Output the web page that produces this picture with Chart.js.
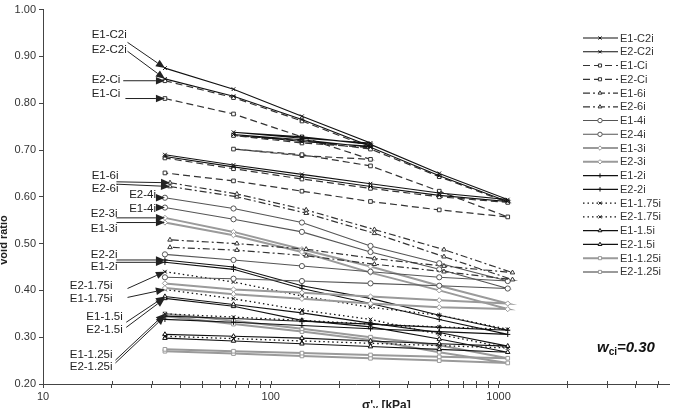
<!DOCTYPE html>
<html>
<head>
<meta charset="utf-8">
<script src="https://cdn.jsdelivr.net/npm/chart.js"></script>
<style>
  html, body { margin: 0; padding: 0; background: #fff; overflow: hidden; }
  #wrap { width: 674px; height: 408px; }
</style>
</head>
<body>
<div id="wrap"><canvas id="myChart" width="674" height="408"></canvas></div>
<script>
// vertical stress steps (kPa): load / unload-reload loop at 274 kPa / load / unload
var pLoop = [34.3, 68.6, 137, 274, 137, 68.6, 137, 274, 549, 1097, 549, 274, 137, 68.6, 34.3];
var pStd = [34.3, 68.6, 137, 274, 549, 1097, 549, 274, 137, 68.6, 34.3];
var pAlt = [36.1, 71, 143, 285, 576, 1151, 576, 285, 143, 71, 36.1];

// void ratios
var E1_C2i = [0.875, 0.830, 0.772, 0.715, 0.725, 0.738, 0.728, 0.712, 0.650, 0.594, 0.608, 0.628, 0.648, 0.668, 0.690];
var E2_C2i = [0.852, 0.815, 0.765, 0.708, 0.718, 0.733, 0.722, 0.706, 0.645, 0.590, 0.603, 0.622, 0.643, 0.664, 0.686];
var E1_Ci = [0.810, 0.777, 0.728, 0.680, 0.688, 0.702, 0.690, 0.666, 0.612, 0.557, 0.572, 0.590, 0.612, 0.634, 0.651];
var E2_Ci = [0.848, 0.812, 0.762, 0.705, 0.715, 0.731, 0.720, 0.702, 0.643, 0.588, 0.600, 0.618, 0.638, 0.660, 0.683];
var E1_6i = [0.630, 0.606, 0.572, 0.530, 0.487, 0.438, 0.452, 0.468, 0.488, 0.500, 0.508];
var E2_6i = [0.622, 0.600, 0.565, 0.522, 0.472, 0.423, 0.440, 0.456, 0.474, 0.486, 0.492];
var E1_4i = [0.577, 0.552, 0.525, 0.482, 0.445, 0.404, 0.410, 0.415, 0.420, 0.425, 0.428];
var E2_4i = [0.598, 0.575, 0.545, 0.495, 0.458, 0.420, 0.428, 0.440, 0.452, 0.465, 0.477];
var E1_3i = [0.545, 0.518, 0.482, 0.438, 0.400, 0.360, 0.364, 0.372, 0.382, 0.392, 0.405];
var E2_3i = [0.555, 0.525, 0.488, 0.451, 0.410, 0.372, 0.379, 0.387, 0.395, 0.402, 0.415];
var E1_2i = [0.460, 0.445, 0.404, 0.372, 0.338, 0.306, 0.312, 0.318, 0.325, 0.332, 0.338];
var E2_2i = [0.465, 0.450, 0.410, 0.383, 0.347, 0.315, 0.321, 0.328, 0.334, 0.340, 0.345];
var E1_175i = [0.402, 0.382, 0.358, 0.338, 0.306, 0.277, 0.282, 0.287, 0.292, 0.297, 0.302];
var E2_175i = [0.440, 0.418, 0.388, 0.364, 0.347, 0.317, 0.322, 0.328, 0.336, 0.343, 0.350];
var E1_15i = [0.387, 0.370, 0.352, 0.330, 0.310, 0.281, 0.286, 0.292, 0.298, 0.302, 0.306];
var E2_15i = [0.383, 0.366, 0.336, 0.322, 0.296, 0.268, 0.274, 0.280, 0.286, 0.292, 0.298];
var E1_125i = [0.350, 0.335, 0.318, 0.300, 0.283, 0.255, 0.258, 0.262, 0.266, 0.270, 0.274];
var E2_125i = [0.345, 0.328, 0.312, 0.294, 0.268, 0.245, 0.250, 0.255, 0.260, 0.265, 0.270];

var yTicks = [0.2, 0.3, 0.4, 0.5, 0.6, 0.7, 0.8, 0.9, 1.0];
var xLabels = [10, 100, 1000];

// name, stresses, void ratios, line style key, marker
var series = [
    ['E1-C2i', pLoop, E1_C2i, 'black', 'crossRot'],
    ['E2-C2i', pLoop, E2_C2i, 'black', 'crossRot'],
    ['E1-Ci', pLoop, E1_Ci, 'dash', 'rect'],
    ['E2-Ci', pLoop, E2_Ci, 'dash', 'rect'],
    ['E1-6i', pAlt, E1_6i, 'dashdot', 'triangle'],
    ['E2-6i', pAlt, E2_6i, 'dashdot', 'triangle'],
    ['E1-4i', pStd, E1_4i, 'dark', 'circle'],
    ['E2-4i', pStd, E2_4i, 'dark', 'circle'],
    ['E1-3i', pStd, E1_3i, 'light', 'rectRot'],
    ['E2-3i', pStd, E2_3i, 'light', 'rectRot'],
    ['E1-2i', pStd, E1_2i, 'black', 'cross'],
    ['E2-2i', pStd, E2_2i, 'black', 'cross'],
    ['E1-1.75i', pStd, E1_175i, 'dot', 'crossRot'],
    ['E2-1.75i', pStd, E2_175i, 'dot', 'crossRot'],
    ['E1-1.5i', pStd, E1_15i, 'black', 'triangle'],
    ['E2-1.5i', pStd, E2_15i, 'black', 'triangle'],
    ['E1-1.25i', pStd, E1_125i, 'light', 'rect'],
    ['E2-1.25i', pStd, E2_125i, 'light', 'rect']
];

var lineStyles = {
    black: { color: '#111', width: 1.1, dash: [] },
    dash: { color: '#333', width: 1.2, dash: [7, 4] },
    dashdot: { color: '#333', width: 1.2, dash: [7, 3, 2, 3] },
    dark: { color: '#555', width: 1.1, dash: [] },
    light: { color: '#9a9a9a', width: 2, dash: [] },
    dot: { color: '#111', width: 1.3, dash: [1.5, 3] }
};

// callout labels on the left: text position and arrow start (kPa, e)
var callouts = [
    { name: 'E1-C2i', tx: 16.35, ty: 0.947, sx: 23.5, sy: 0.930 },
    { name: 'E2-C2i', tx: 16.35, ty: 0.915, sx: 23.5, sy: 0.911 },
    { name: 'E2-Ci', tx: 16.35, ty: 0.851, sx: 22.5, sy: 0.848 },
    { name: 'E1-Ci', tx: 16.35, ty: 0.821, sx: 23.0, sy: 0.810 },
    { name: 'E1-6i', tx: 16.35, ty: 0.645, sx: 21.0, sy: 0.632 },
    { name: 'E2-6i', tx: 16.35, ty: 0.617, sx: 21.0, sy: 0.627 },
    { name: 'E2-4i', tx: 23.9, ty: 0.604, sx: 31.4, sy: 0.598 },
    { name: 'E1-4i', tx: 23.9, ty: 0.574, sx: 31.4, sy: 0.577 },
    { name: 'E2-3i', tx: 16.2, ty: 0.564, sx: 21.0, sy: 0.555 },
    { name: 'E1-3i', tx: 16.2, ty: 0.532, sx: 21.0, sy: 0.545 },
    { name: 'E2-2i', tx: 16.2, ty: 0.477, sx: 21.0, sy: 0.465 },
    { name: 'E1-2i', tx: 16.2, ty: 0.451, sx: 21.0, sy: 0.460 },
    { name: 'E2-1.75i', tx: 13.1, ty: 0.409, sx: 23.5, sy: 0.404 },
    { name: 'E1-1.75i', tx: 13.1, ty: 0.383, sx: 23.5, sy: 0.385 },
    { name: 'E1-1.5i', tx: 15.5, ty: 0.343, sx: 23.2, sy: 0.332 },
    { name: 'E2-1.5i', tx: 15.5, ty: 0.315, sx: 23.2, sy: 0.321 },
    { name: 'E1-1.25i', tx: 13.1, ty: 0.262, sx: 20.8, sy: 0.251 },
    { name: 'E2-1.25i', tx: 13.1, ty: 0.236, sx: 20.8, sy: 0.245 }
];

var FONT = 'Arial, "Liberation Sans", sans-serif';

var datasets = series.map(function(s) {
    var st = lineStyles[s[3]];
    return {
        label: s[0],
        data: s[1].map(function(p, i) { return { x: p, y: s[2][i] }; }),
        showLine: true,
        borderColor: st.color,
        borderWidth: st.width,
        borderDash: st.dash,
        backgroundColor: '#fff',
        pointStyle: s[4],
        pointRadius: 2.6,
        pointBorderWidth: 1,
        pointBorderColor: st.color,
        pointBackgroundColor: '#fff',
        tension: 0
    };
});

function drawArrow(c, x0, y0, x1, y1) {
    var a = Math.atan2(y1 - y0, x1 - x0);
    var len = 9, half = 3.8;
    c.beginPath();
    c.moveTo(x0, y0);
    c.lineTo(x1 - Math.cos(a) * len, y1 - Math.sin(a) * len);
    c.stroke();
    c.beginPath();
    c.moveTo(x1, y1);
    c.lineTo(x1 - Math.cos(a) * len - Math.sin(a) * half, y1 - Math.sin(a) * len + Math.cos(a) * half);
    c.lineTo(x1 - Math.cos(a) * len + Math.sin(a) * half, y1 - Math.sin(a) * len - Math.cos(a) * half);
    c.closePath();
    c.fill();
}

var overlay = {
    id: 'overlay',
    afterDatasetsDraw: function(chart) {
        var c = chart.ctx;
        var xs = chart.scales.x, ys = chart.scales.y;
        c.save();

        // x ticks cross the axis line
        c.strokeStyle = '#444';
        c.lineWidth = 1;
        xs.ticks.forEach(function(t) {
            var px = Math.round(xs.getPixelForValue(t.value)) + 0.5;
            c.beginPath();
            c.moveTo(px, xs.top - 3);
            c.lineTo(px, xs.top);
            c.stroke();
        });

        // callouts with arrows
        c.font = '11.5px ' + FONT;
        c.textBaseline = 'middle';
        c.fillStyle = '#222';
        c.strokeStyle = '#222';
        c.lineWidth = 1;
        callouts.forEach(function(cl) {
            var idx = series.findIndex(function(s) { return s[0] === cl.name; });
            var pt = chart.getDatasetMeta(idx).data[0];
            c.fillText(cl.name, xs.getPixelForValue(cl.tx), ys.getPixelForValue(cl.ty));
            drawArrow(c, xs.getPixelForValue(cl.sx), ys.getPixelForValue(cl.sy), pt.x, pt.y);
        });

        // legend
        var lx = 583, ly = 38, step = 13.76;
        c.font = '11px ' + FONT;
        c.textAlign = 'left';
        chart.data.datasets.forEach(function(ds, i) {
            var y = ly + i * step;
            c.fillStyle = '#fff';
            c.fillRect(lx - 2, y - 7, 92, 14);
            c.strokeStyle = ds.borderColor;
            c.lineWidth = ds.borderWidth;
            c.setLineDash(ds.borderDash);
            c.beginPath();
            c.moveTo(lx, y);
            c.lineTo(lx + 35, y);
            c.stroke();
            c.setLineDash([]);
            c.lineWidth = 1;
            c.fillStyle = '#fff';
            Chart.helpers.drawPoint(c, { pointStyle: ds.pointStyle, radius: 2.2, borderWidth: 1, rotation: 0 }, lx + 17, y);
            c.fillStyle = '#333';
            c.fillText(ds.label, lx + 37, y + 0.5);
        });

        // w_ci = 0.30
        c.fillStyle = '#111';
        c.textBaseline = 'alphabetic';
        c.font = 'italic bold 15px ' + FONT;
        c.fillText('w', 597, 352);
        var wW = c.measureText('w').width;
        c.font = 'bold 10px ' + FONT;
        c.fillText('ci', 597 + wW, 355);
        var cW = c.measureText('ci').width;
        c.font = 'italic bold 15px ' + FONT;
        c.fillText('=0.30', 597 + wW + cW, 352);

        // axis titles
        c.fillStyle = '#222';
        c.font = 'bold 12px ' + FONT;
        c.textBaseline = 'top';
        var tx = 362;
        c.fillText("\u03c3'", tx, 400);
        tx += c.measureText("\u03c3'").width;
        c.font = 'bold 9px ' + FONT;
        c.fillText('v', tx, 404);
        tx += c.measureText('v').width;
        c.font = 'bold 12px ' + FONT;
        c.fillText(' [kPa]', tx, 400);

        c.translate(4, 240);
        c.rotate(-Math.PI / 2);
        c.textAlign = 'center';
        c.textBaseline = 'middle';
        c.font = 'bold 11px ' + FONT;
        c.fillText('void ratio', 0, 0);
        c.restore();
    }
};

document.addEventListener("DOMContentLoaded", function() {
    var ctx = document.getElementById('myChart').getContext('2d');
    var xTicks = [];
    [10, 100, 1000].forEach(function(d) {
        for (var m = 1; m <= 9; m++) {
            if (d * m <= 5600) xTicks.push(d * m);
        }
    });

    new Chart(ctx, {
        type: 'scatter',
        data: { datasets: datasets },
        options: {
            responsive: false,
            animation: false,
            devicePixelRatio: 1,
            layout: { padding: { top: 8, right: 0, left: 0, bottom: 0 } },
            plugins: {
                legend: { display: false },
                tooltip: { enabled: false }
            },
            scales: {
                x: {
                    type: 'logarithmic',
                    min: 10,
                    max: 5600,
                    afterFit: function(s) { s.height = 24; },
                    afterBuildTicks: function(s) {
                        s.ticks = xTicks.map(function(v) { return { value: v }; });
                    },
                    ticks: {
                        autoSkip: false,
                        maxRotation: 0,
                        padding: 2,
                        color: '#333',
                        font: { size: 11, family: FONT },
                        callback: function(v) { return xLabels.indexOf(v) >= 0 ? String(v) : ''; }
                    },
                    grid: { drawOnChartArea: false, tickLength: 4, color: '#444' },
                    border: { color: '#444', width: 1 }
                },
                y: {
                    min: 0.2,
                    max: 1.0,
                    afterFit: function(s) { s.width = 43; },
                    afterBuildTicks: function(s) {
                        s.ticks = yTicks.map(function(v) { return { value: v }; });
                    },
                    ticks: {
                        padding: 3,
                        color: '#333',
                        font: { size: 11, family: FONT },
                        callback: function(v) { return v.toFixed(2); }
                    },
                    grid: { drawOnChartArea: false, tickLength: 4, color: '#444' },
                    border: { color: '#444', width: 1 }
                }
            }
        },
        plugins: [overlay]
    });
});
</script>
</body>
</html>
